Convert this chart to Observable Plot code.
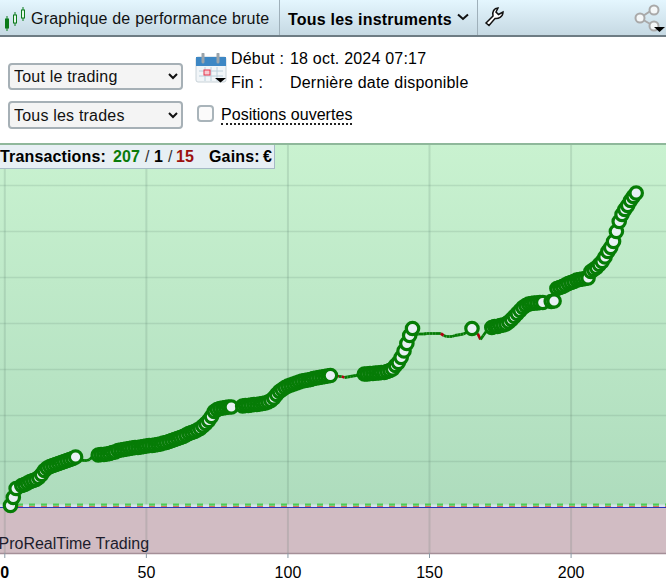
<!DOCTYPE html>
<html lang="fr">
<head>
<meta charset="utf-8">
<script src="https://cdn.jsdelivr.net/npm/d3@7"></script>
<script src="https://cdn.jsdelivr.net/npm/@observablehq/plot@0.6"></script>
<style>
html,body{margin:0;padding:0;width:666px;height:583px;overflow:hidden;background:#fff;font-family:"Liberation Sans",Arial,sans-serif;color:#000}
.a{position:absolute;white-space:nowrap;font-size:16px;line-height:18px;letter-spacing:.21px}
#head{position:absolute;left:0;top:0;width:666px;height:35px;background:linear-gradient(#e4f6fe,#c6d9e3);border-bottom:2px solid #6e7c84}
.div{position:absolute;top:0;width:1px;height:35px;background:#9fb0ba}
select{position:absolute;left:8px;width:175px;height:27px;font:16px "Liberation Sans",Arial,sans-serif;letter-spacing:.2px;padding-left:0;color:#111;border:2px solid #a6b0b6;border-radius:4px;background-color:#f4f4f4}
#cb{position:absolute;left:197px;top:105px;width:13px;height:13px;border:2px solid #a9b4ba;border-radius:4px;background:#fbfbfb}
#chart{position:absolute;left:0;top:144px;width:666px;height:439px}
#topline{position:absolute;left:0;top:143px;width:666px;height:2px;background:#8fb89b;z-index:1}
#box{position:absolute;left:0;top:145px;width:274px;height:23px;background:#e7eff4;border-right:1px solid #a5bac6;border-bottom:1px solid #a5bac6;z-index:2;font-weight:bold}
#box span{position:absolute;top:3px;font-size:16px;line-height:18px;letter-spacing:.15px}
</style>
</head>
<body>
<div id="head">
<svg class="a" style="left:2px;top:2px" width="26" height="30" viewBox="0 0 26 30">
<g stroke="#0b7a1a" fill="#0b7a1a"><path d="M5 14v15M13 10v14M21 5v14" fill="none"/><rect x="3.5" y="17" width="3" height="9"/><rect x="11.5" y="13" width="3" height="8" fill="#e6f7e8"/><rect x="19.5" y="8" width="3" height="8" fill="#e6f7e8"/></g></svg>
<div class="a" style="left:31px;top:10px;color:#111">Graphique de performance brute</div>
<div class="div" style="left:279px"></div>
<div class="a" style="left:288px;top:11px;font-weight:bold">Tous les instruments</div>
<svg class="a" style="left:457px;top:13px" width="12" height="8"><path d="M1 1.500L6 6L11 1.500" fill="none" stroke="#111" stroke-width="2"/></svg>
<div class="div" style="left:477px"></div>
<svg class="a" style="left:484px;top:7px" width="20" height="20" viewBox="0 0 20 20"><path d="M2 16L9 9C8 5 10 1 14 1L12 5L14.500 7.500L19 5C19 10 14 12 11 11.500L5 18.500Z" fill="#fff" stroke="#111" stroke-width="1.500"/></svg>
<svg class="a" style="left:634px;top:3px" width="32" height="30" viewBox="0 0 32 30"><g stroke="#a9a9a9" fill="#f4f7f8" stroke-width="2"><path d="M18 7L6 15L18 22" fill="none"/><circle cx="20" cy="7" r="4.500"/><circle cx="6" cy="15" r="4.500"/><circle cx="20" cy="23" r="4.500"/></g><path d="M20 24h11l-5.500 5z" fill="#000"/></svg>
</div>

<select style="top:63px"><option>Tout le trading</option></select>
<select style="top:101px;height:28px"><option>Tous les trades</option></select>

<svg class="a" style="left:195px;top:53px" width="32" height="31" viewBox="0 0 32 31">
<rect x="1" y="4" width="30" height="25" rx="2" fill="#f1f5f8" stroke="#c8d2d8"/>
<rect x="1" y="4" width="30" height="9" fill="#3d87c4"/>
<path d="M8 1v8M23 1v8" stroke="#9aa4ab" stroke-width="3" stroke-linecap="round"/>
<path d="M4 18h24M4 23h24M10 14v14M16 14v14M22 14v14" stroke="#bcd0dc"/>
<rect x="9" y="17" width="6" height="5" fill="#f6c9cf" stroke="#e8344c"/>
<path d="M20 25h11l-5.500 4.500z" fill="#000"/></svg>
<div class="a" style="left:231px;top:50px">Début :</div>
<div class="a" style="left:290px;top:50px">18 oct. 2024 07:17</div>
<div class="a" style="left:231px;top:74px">Fin :</div>
<div class="a" style="left:290px;top:74px">Dernière date disponible</div>
<div id="cb"></div>
<div class="a" style="left:221px;top:106px;border-bottom:2px dotted #222;line-height:17px;height:17px;letter-spacing:.04px">Positions ouvertes</div>

<div id="topline"></div>
<div id="box">
<span style="left:0">Transactions:</span>
<span style="left:113px;color:#0a7a0a">207</span>
<span style="left:145px;color:#333;font-weight:normal">/</span>
<span style="left:154px">1</span>
<span style="left:168px;color:#333;font-weight:normal">/</span>
<span style="left:176px;color:#9c1010">15</span>
<span style="left:209px">Gains:</span>
<span style="left:263px">€</span>
</div>
<div id="chart"></div>

<script>
const firstTrade = 2;
const gains = [
  2, 10, 19, 21, 22, 23, 24.5, 26,
  27, 28, 30, 33, 37, 39.5, 41, 42, 43, 44,
  45, 46, 47, 48, 49, 50.5, 49, 47.5, 47, 47,
  48, 51, 52, 52.5, 53, 53, 53.5, 54, 55, 55.5,
  57, 57.5, 58, 58.5, 59, 59.5, 60, 60, 60.5, 61,
  61.5, 62, 62, 62.5, 63, 63.5, 64.5, 65, 66, 67,
  68, 69, 70, 71, 72.5, 74, 75, 76, 77.5, 79,
  81.5, 84, 87, 91, 96, 98, 99, 99.5, 100, 100.5,
  100.5, 100.5, 101, 101, 101.5, 102, 102, 102.5, 103, 103,
  103.5, 104, 104.5, 105.5, 107, 109.5, 113, 116, 118, 120,
  121.5, 122.5, 123.5, 124.5, 125.5, 126.5, 127, 127.5, 128, 129,
  129.5, 130, 130.5, 131, 131.5, 132, 132, 132, 131, 131,
  130, 130.5, 131, 131.5, 132, 132.5, 133, 133.5, 133.5, 134,
  134, 134.5, 134.5, 135, 135, 136, 137, 138.5, 142, 145,
  150, 156.5, 164, 172, 179, 173, 173.5, 173.5, 173.5, 174,
  174, 174, 174, 174, 174, 172, 171, 171, 171, 172,
  172.5, 173, 173.5, 175, 177, 179, 176, 174, 168, 172,
  176, 179, 180, 181, 181, 182, 182.5, 183.5, 185.5, 188,
  191, 194, 197, 200, 202, 203.5, 204, 204.5, 204.5, 205,
  205, 205.5, 206, 206, 206.5, 219, 220, 221, 222.5, 224,
  225, 226, 227.5, 228, 228.5, 229, 229.5, 236, 238, 240,
  243, 246, 250.5, 256, 260, 266, 276, 286, 293, 298,
  302, 307, 311, 314.5
];
const losingTrades = [27, 118, 120, 155, 168];
const tradesWithoutMarker = [
  5, 26, 27, 28, 29, 30, 31, 32, 81, 82, 83,
  116, 117, 118, 119, 120, 121, 122, 123, 124, 125, 126,
  145, 146, 147, 148, 149, 150, 151, 152, 153, 154, 155, 156, 157, 158, 159, 160, 161, 162, 163, 164,
  166, 167, 168, 169, 170, 171, 191, 192
];
const xTicks = [50, 100, 150, 200];
const xGrid = [0, 50, 100, 150, 200];
const yGrid = [46, 92, 138, 184, 230, 276, 322];
const watermark = "ProRealTime Trading";

const trades = gains.map((gain, i) => ({trade: firstTrade + i, gain}));
const segments = trades.slice(1).map((t, i) => ({
  x1: trades[i].trade, y1: trades[i].gain, x2: t.trade, y2: t.gain,
  lost: losingTrades.includes(t.trade)
}));
const markers = trades.filter(t => !tradesWithoutMarker.includes(t.trade));

const defs = () => {
  const d = d3.create("svg:defs");
  const g = d.append("linearGradient").attr("id", "profitBg").attr("x1", 0).attr("y1", 0).attr("x2", 0).attr("y2", 1);
  g.append("stop").attr("offset", 0).attr("stop-color", "#c9f2d0");
  g.append("stop").attr("offset", 1).attr("stop-color", "#aedcbd");
  return d.node();
};

const plot = Plot.plot({
  width: 666,
  height: 439,
  marginTop: 0, marginBottom: 30, marginLeft: 0, marginRight: 0,
  style: {fontFamily: '"Liberation Sans", Arial, sans-serif', fontSize: "16px", background: "transparent", overflow: "visible"},
  x: {domain: [-1.52, 233.7], axis: null},
  y: {domain: [-46, 363], axis: null},
  marks: [
    defs,
    Plot.rect([0], {x1: -1.52, x2: 233.7, y1: 0, y2: 363, fill: "url(#profitBg)"}),
    Plot.rect([0], {x1: -1.52, x2: 233.7, y1: -46, y2: 0, fill: "#d1bcc3"}),
    Plot.ruleX(xGrid, {stroke: "#4d6b5c", strokeOpacity: 0.16, strokeWidth: 2}),
    Plot.ruleY(yGrid, {stroke: "#4d6b5c", strokeOpacity: 0.15, strokeWidth: 1.5}),
    Plot.ruleY([-46], {stroke: "#a58f98", strokeWidth: 1.5}),
    Plot.ruleY([1.5], {stroke: "#d6e2ea", strokeWidth: 3}),
    Plot.ruleY([2.8], {stroke: "#4fcb55", strokeWidth: 2.2, strokeDasharray: "6 6", strokeDashoffset: -5}),
    Plot.ruleY([0.8], {stroke: "#d8705f", strokeWidth: 1.2, strokeDasharray: "6 6", strokeDashoffset: -5}),
    Plot.ruleY([0], {stroke: "#2a36b8", strokeWidth: 1}),
    Plot.text([watermark], {frameAnchor: "bottom-left", dx: -2, dy: -5, lineAnchor: "bottom", textAnchor: "start", fill: "#1c1c2c", fontSize: 16}),
    Plot.link(segments, {x1: "x1", y1: "y1", x2: "x2", y2: "y2", stroke: d => d.lost ? "#b0000f" : "#067c06", strokeWidth: 2.8}),
    Plot.dot(markers, {x: "trade", y: "gain", r: 6.2, stroke: "#067c06", strokeWidth: 3.2, fill: "#e9f0f5"}),
    Plot.axisX({ticks: xTicks, anchor: "bottom", tickSize: 5, tickPadding: 8, label: null, stroke: "#8a9aa5", fill: "#000", tickFormat: d => String(d)}),
    Plot.axisX({ticks: [0], anchor: "bottom", tickSize: 5, tickPadding: 8, label: null, stroke: "#8a9aa5", fill: "#000", fontWeight: "bold", tickFormat: d => String(d)})
  ]
});
document.getElementById("chart").appendChild(plot);
</script>
</body>
</html>
